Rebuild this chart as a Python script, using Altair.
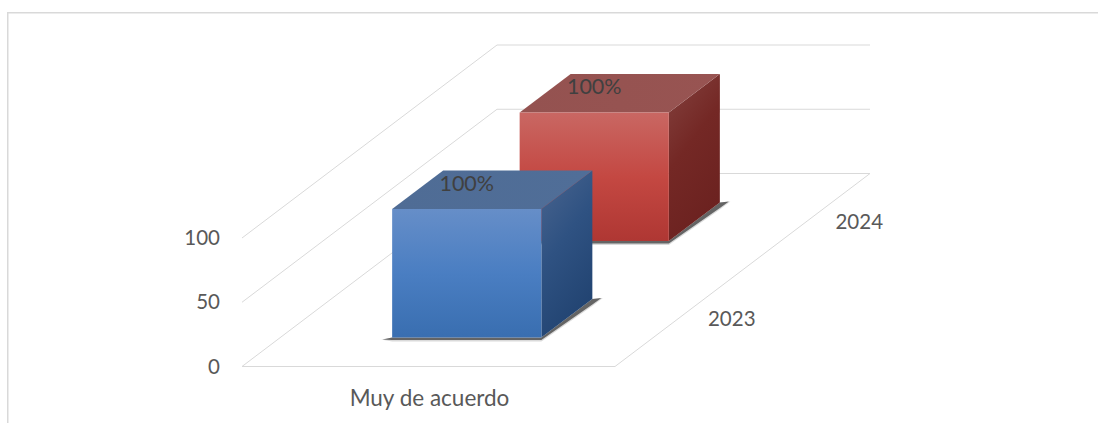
import altair as alt
import pandas as pd

# Chart content
CATEGORIES = ["Muy de acuerdo"]
SERIES = ["2023", "2024"]
VALUES = [100, 100]
BAR_LABELS = ["100%", "100%"]
VALUE_TICKS = [0, 50, 100]

# Oblique projection of (category, depth, value) onto the canvas
CANVAS_W, CANVAS_H = 1098, 423
ORIGIN_X, ORIGIN_Y = 242.0, 366.5
CATEGORY_SPAN = 373.0
DEPTH_DX, DEPTH_DY = 127.5, 96.5
VALUE_PX = 1.285
BAR_START, BAR_END = 0.3, 0.7

FONT = "Lato"
TICK_SIZE = 20.5
CATEGORY_SIZE = 22.5
VALUE_LABEL_SIZE = 21.5
AXIS_TEXT = "#595959"
LABEL_TEXT = "#404040"
GRID = "#d9d9d9"

BAR_STYLES = [
    {
        "front": ["#668ec8", "#4a7ec2", "#396eb0"],
        "top": ["#4f6c95", "#506e98"],
        "side": ["#4a658f", "#2f5282", "#224472"],
    },
    {
        "front": ["#c96763", "#c44842", "#af3733"],
        "top": ["#945250", "#985452"],
        "side": ["#84423f", "#742825", "#6c2220"],
    },
]


def project(u, depth, value):
    return (
        ORIGIN_X + u * CATEGORY_SPAN + depth * DEPTH_DX,
        ORIGIN_Y + depth * DEPTH_DY * -1 - value * VALUE_PX,
    )


X = alt.Scale(domain=[0, CANVAS_W], range=[0, CANVAS_W], nice=False, zero=False)
Y = alt.Scale(domain=[0, CANVAS_H], range=[0, CANVAS_H], nice=False, zero=False)
x_enc = alt.X("x:Q", scale=X, axis=None)
y_enc = alt.Y("y:Q", scale=Y, axis=None)
x2_enc = alt.X2("x2:Q")
y2_enc = alt.Y2("y2:Q")


def gradient(colors, x2=0.0, y2=1.0):
    last = len(colors) - 1
    return alt.Gradient(
        gradient="linear",
        stops=[alt.GradientStop(offset=i / last, color=c) for i, c in enumerate(colors)],
        x1=0, y1=0, x2=x2, y2=y2,
    )


def segment(a, b, width=1.0, color=GRID):
    frame = pd.DataFrame([{"x": a[0], "y": a[1], "x2": b[0], "y2": b[1]}])
    return alt.Chart(frame).mark_rule(color=color, strokeWidth=width).encode(
        x=x_enc, y=y_enc, x2=x2_enc, y2=y2_enc
    )


def label(text, x, y, size, color=AXIS_TEXT, align="center"):
    frame = pd.DataFrame([{"x": x, "y": y, "t": text}])
    return alt.Chart(frame).mark_text(
        font=FONT, fontSize=size, color=color, align=align, baseline="middle"
    ).encode(x=x_enc, y=y_enc, text="t:N")


def shadow_layers(d0, d1):
    fx0, fy = project(BAR_START, d0, 0)
    fx1, _ = project(BAR_END, d0, 0)
    bx, by = project(BAR_END, d1, 0)
    rows = []
    for grow, opacity, color in [(1.5, 0.22, "#555555"), (0.0, 0.75, "#3c3c3c")]:
        rows.append((opacity, color, pd.DataFrame({
            "x": [fx0 - 9.5 - grow, fx0, fx1, bx, bx + 9 + grow],
            "y": [fy + 2, fy, fy, by, by - 1],
            "y2": [fy + 2, fy + 2.5 + grow, fy + 2.5 + grow, by + 5.5 + grow, by - 1],
        })))
    return [
        alt.Chart(f).mark_area(color=c, opacity=o, line=False).encode(x=x_enc, y=y_enc, y2=y2_enc)
        for o, c, f in rows
    ]


def box_layers(index, value, style):
    d0, d1 = index + BAR_START, index + BAR_END
    fx0, fy0 = project(BAR_START, d0, 0)
    fx1, fy1 = project(BAR_END, d0, value)
    bx1, by1 = project(BAR_END, d1, value)
    _, by0 = project(BAR_END, d1, 0)
    tx0, _ = project(BAR_START, d1, value)

    front = pd.DataFrame({"x": [fx0, fx1], "y": [fy1, fy1], "y2": [fy0, fy0]})
    side = pd.DataFrame({"x": [fx1, bx1], "y": [fy1, by1], "y2": [fy0, by0]})
    top = pd.DataFrame({"y": [by1, fy1], "x": [tx0, fx0], "x2": [bx1, fx1]})

    layers = shadow_layers(d0, d1)
    layers.append(
        alt.Chart(side).mark_area(fill=gradient(style["side"], x2=0.4, y2=1), line=False)
        .encode(x=x_enc, y=y_enc, y2=y2_enc)
    )
    layers.append(
        alt.Chart(top).mark_area(fill=gradient(style["top"], x2=1, y2=0), orient="horizontal", line=False)
        .encode(y=y_enc, x=x_enc, x2=x2_enc)
    )
    layers.append(
        alt.Chart(front).mark_area(fill=gradient(style["front"]), line=False)
        .encode(x=x_enc, y=y_enc, y2=y2_enc)
    )
    return layers


layers = []

# Chart frame, open at the right and bottom edges
layers.append(
    alt.Chart(pd.DataFrame({"k": [0]})).mark_rule(color=GRID, strokeWidth=1.5)
    .encode(x=alt.value(7), x2=alt.value(CANVAS_W), y=alt.value(12.75))
)
layers.append(
    alt.Chart(pd.DataFrame({"k": [0]})).mark_rule(color=GRID, strokeWidth=1.5)
    .encode(x=alt.value(7.75), y=alt.value(12), y2=alt.value(CANVAS_H))
)

# Walls and floor
depth_total = len(SERIES)
for tick in VALUE_TICKS:
    layers.append(segment(project(0, 0, tick), project(0, depth_total, tick)))
    layers.append(segment(project(0, depth_total, tick), project(1, depth_total, tick)))
layers.append(segment(project(0, 0, 0), project(1, 0, 0)))
layers.append(segment(project(1, 0, 0), project(1, depth_total, 0)))

# Boxes, far series first
for i in reversed(range(len(SERIES))):
    layers.extend(box_layers(i, VALUES[i], BAR_STYLES[i]))

# Value axis labels
for tick in VALUE_TICKS:
    px, py = project(0, 0, tick)
    layers.append(label(str(tick), px - 22, py + 1, TICK_SIZE, align="right"))

# Category and depth axis labels
cx, cy = project(0.5, 0, 0)
layers.append(label(CATEGORIES[0], cx + 1, cy + 32.5, CATEGORY_SIZE))
for i, name in enumerate(SERIES):
    px, py = project(1, i + 0.5, 0)
    layers.append(label(name, px + 53, py + 1.5, TICK_SIZE))

# Value labels sit above the front face of each box
for i in reversed(range(len(SERIES))):
    px, py = project(0.5, i + BAR_START, VALUES[i])
    layers.append(label(BAR_LABELS[i], px, py - 24.5, VALUE_LABEL_SIZE, color=LABEL_TEXT))

chart = alt.layer(*layers).properties(
    width=CANVAS_W,
    height=CANVAS_H,
    padding=0,
    autosize=alt.AutoSizeParams(type="none"),
    background="white",
).configure_view(stroke=None)

chart.save("out.html", embed_options={"renderer": "svg", "actions": False})
